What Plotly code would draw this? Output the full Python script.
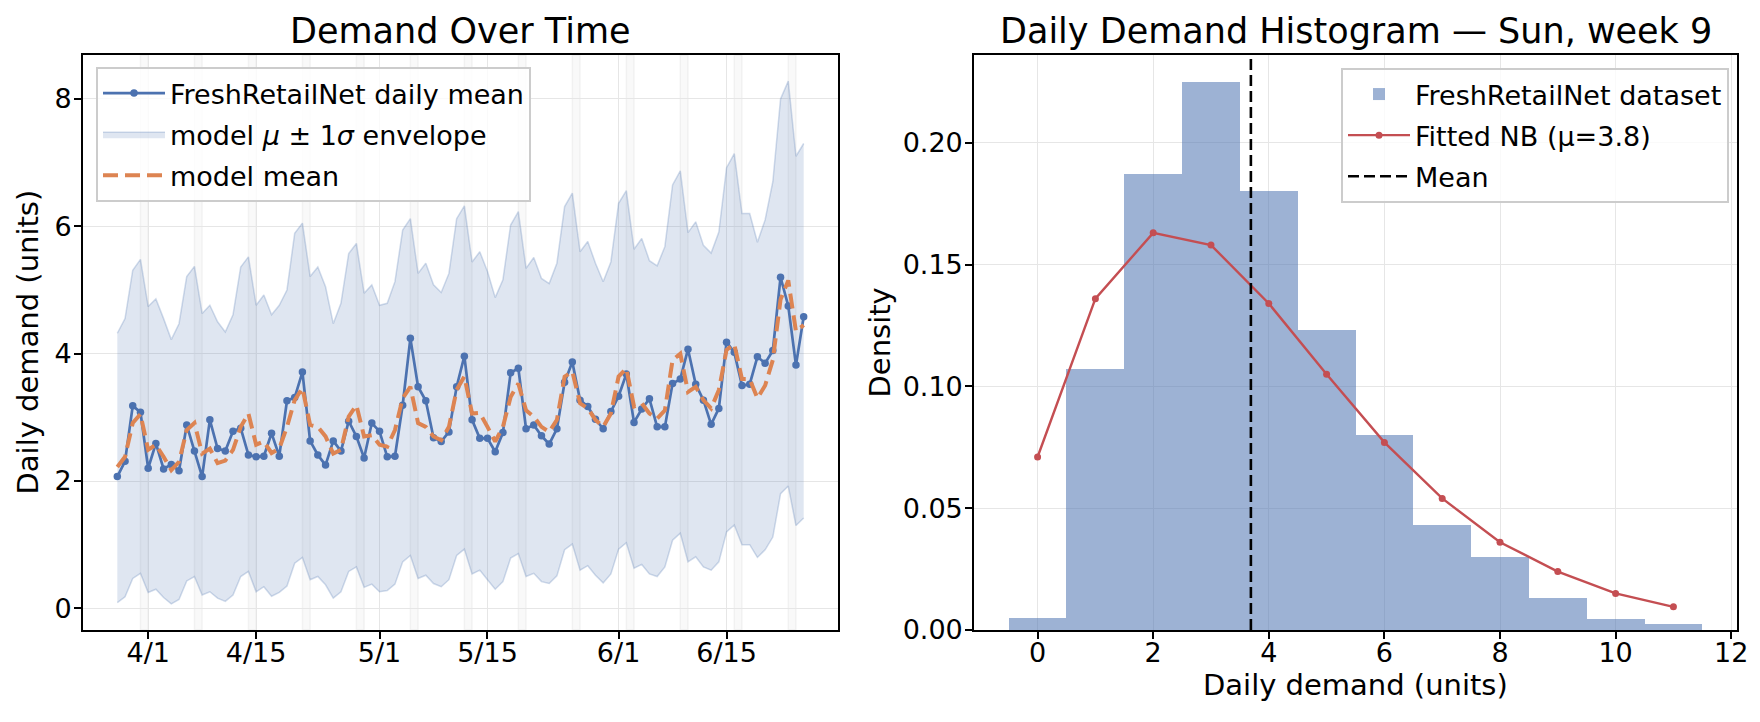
import pandas as pd
import plotly.graph_objects as go

W, H = 1760, 722
OFF = 8  # page body margin the figure sits inside
BLUE = '#4C72B0'
ORANGE = '#DD8452'
RED = '#C44E52'
FONT = 'DejaVu Sans'

# ---- left panel data (daily, 90 days) ----
start_date = '2024-03-28'
daily_mean = [
    2.07, 2.31, 3.18, 3.08, 2.20, 2.59, 2.19, 2.26, 2.16, 2.88,
    2.47, 2.07, 2.96, 2.51, 2.47, 2.78, 2.83, 2.41, 2.38, 2.39,
    2.75, 2.39, 3.26, 3.31, 3.71, 2.63, 2.41, 2.25, 2.63, 2.47,
    2.94, 2.70, 2.36, 2.91, 2.78, 2.38, 2.39, 3.19, 4.24, 3.48,
    3.26, 2.68, 2.62, 2.77, 3.48, 3.96, 2.96, 2.67, 2.67, 2.46,
    2.76, 3.70, 3.77, 2.82, 2.88, 2.71, 2.58, 2.82, 3.55, 3.87,
    3.27, 3.17, 2.97, 2.82, 3.09, 3.33, 3.68, 2.92, 3.13, 3.29,
    2.85, 2.85, 3.53, 3.60, 4.07, 3.52, 3.27, 2.89, 3.14, 4.18,
    4.02, 3.50, 3.52, 3.95, 3.85, 4.05, 5.20, 4.75, 3.82, 4.58,
]
model_mean = [
    2.22, 2.38, 2.91, 3.05, 2.49, 2.57, 2.38, 2.17, 2.30, 2.80,
    2.91, 2.43, 2.51, 2.28, 2.32, 2.49, 2.85, 3.06, 2.57, 2.62,
    2.44, 2.51, 2.85, 3.27, 3.46, 2.88, 2.85, 2.70, 2.43, 2.49,
    3.01, 3.19, 2.70, 2.72, 2.57, 2.54, 2.80, 3.30, 3.48, 2.91,
    2.85, 2.70, 2.64, 2.85, 3.43, 3.64, 3.06, 3.07, 2.85, 2.62,
    2.85, 3.32, 3.53, 3.11, 3.01, 2.85, 2.77, 2.96, 3.64, 3.72,
    3.22, 3.14, 2.96, 2.85, 3.06, 3.64, 3.77, 3.17, 3.22, 3.06,
    2.98, 3.11, 3.90, 4.00, 3.40, 3.48, 3.27, 3.14, 3.43, 4.06,
    4.15, 3.60, 3.60, 3.30, 3.50, 3.90, 4.85, 5.15, 4.35, 4.45,
]
env_upper = [
    4.32, 4.55, 5.31, 5.48, 4.74, 4.86, 4.55, 4.22, 4.47, 5.21,
    5.37, 4.63, 4.76, 4.50, 4.34, 4.61, 5.36, 5.52, 4.76, 4.92,
    4.61, 4.76, 5.00, 5.89, 6.05, 5.21, 5.36, 5.05, 4.47, 4.79,
    5.57, 5.73, 4.95, 5.08, 4.76, 4.79, 5.13, 5.94, 6.12, 5.26,
    5.42, 5.08, 4.96, 5.26, 6.12, 6.32, 5.44, 5.60, 5.29, 4.88,
    5.16, 6.02, 6.23, 5.34, 5.51, 5.18, 5.10, 5.42, 6.31, 6.52,
    5.60, 5.76, 5.42, 5.13, 5.44, 6.36, 6.56, 5.64, 5.81, 5.46,
    5.38, 5.68, 6.65, 6.87, 5.90, 6.07, 5.70, 5.58, 5.91, 6.92,
    7.14, 6.20, 6.20, 5.75, 6.10, 6.70, 8.00, 8.28, 7.10, 7.30,
]
env_lower = [
    0.09, 0.18, 0.47, 0.55, 0.25, 0.30, 0.17, 0.07, 0.14, 0.43,
    0.50, 0.21, 0.26, 0.16, 0.11, 0.21, 0.50, 0.58, 0.26, 0.34,
    0.19, 0.25, 0.35, 0.71, 0.80, 0.45, 0.50, 0.37, 0.16, 0.26,
    0.58, 0.65, 0.33, 0.38, 0.26, 0.28, 0.38, 0.73, 0.83, 0.47,
    0.52, 0.39, 0.34, 0.45, 0.83, 0.93, 0.54, 0.60, 0.45, 0.30,
    0.42, 0.79, 0.86, 0.50, 0.55, 0.42, 0.39, 0.51, 0.92, 1.01,
    0.60, 0.67, 0.52, 0.40, 0.54, 0.93, 1.03, 0.63, 0.69, 0.54,
    0.50, 0.65, 1.07, 1.18, 0.73, 0.81, 0.65, 0.60, 0.73, 1.20,
    1.31, 1.00, 1.00, 0.80, 0.92, 1.12, 1.80, 1.92, 1.30, 1.42,
]
tick_dates = ['2024-04-01', '2024-04-15', '2024-05-01', '2024-05-15', '2024-06-01', '2024-06-15']
tick_text = ['4/1', '4/15', '5/1', '5/15', '6/1', '6/15']

# ---- right panel data ----
hist_bins = list(range(12))
hist_density = [0.005, 0.107, 0.187, 0.225, 0.180, 0.123, 0.080, 0.043, 0.030, 0.013, 0.0045, 0.0025]
nb_x = list(range(12))
nb_pmf = [0.071, 0.136, 0.163, 0.158, 0.134, 0.105, 0.077, 0.054, 0.036, 0.024, 0.015, 0.0095]
mean_demand = 3.69
nb_mu = 3.8

dates = pd.date_range(start_date, periods=len(daily_mean), freq='D')


def px_x(p):
    return (p - OFF) / W


def px_y(p):
    return 1 - (p - OFF) / H


fig = go.Figure()

# envelope
fig.add_trace(go.Scatter(
    x=dates, y=env_lower, mode='lines',
    line=dict(color='rgba(76,114,176,0.25)', width=1.5),
    showlegend=False, hoverinfo='skip',
))
fig.add_trace(go.Scatter(
    x=dates, y=env_upper, mode='lines', fill='tonexty',
    fillcolor='rgba(76,114,176,0.18)',
    line=dict(color='rgba(76,114,176,0.25)', width=1.5),
    name='model <i>μ</i> ± 1<i>σ</i> envelope', legendrank=2, legendgroup='env',
))
fig.add_trace(go.Scatter(
    x=dates, y=daily_mean, mode='lines+markers',
    line=dict(color=BLUE, width=2.7), marker=dict(color=BLUE, size=7.5),
    name='FreshRetailNet daily mean', legendrank=1, legendgroup='obs',
))
fig.add_trace(go.Scatter(
    x=dates, y=model_mean, mode='lines',
    line=dict(color=ORANGE, width=4, dash='15px,7px'),
    name='model mean', legendrank=3, legendgroup='mod',
))

# right panel
fig.add_trace(go.Bar(
    x=hist_bins, y=hist_density, width=1,
    marker=dict(color='rgba(76,114,176,0.55)', line=dict(width=0)),
    name='FreshRetailNet dataset', xaxis='x2', yaxis='y2',
    legend='legend2', legendgroup='hist',
))
fig.add_trace(go.Scatter(
    x=nb_x, y=nb_pmf, mode='lines+markers',
    line=dict(color=RED, width=2.4), marker=dict(color=RED, size=7),
    name=f'Fitted NB (μ={nb_mu})', xaxis='x2', yaxis='y2',
    legend='legend2', legendgroup='nb',
))
fig.add_trace(go.Scatter(
    x=[mean_demand, mean_demand], y=[0, 0.236], mode='lines',
    line=dict(color='black', width=2.6, dash='11px,5px'),
    name='Mean', xaxis='x2', yaxis='y2',
    legend='legend2', legendgroup='mean',
))

# Sunday shading
shapes = []
for d in dates:
    if d.dayofweek == 6:
        shapes.append(dict(
            type='rect', xref='x', yref='y domain',
            x0=d, x1=d + pd.Timedelta(days=1), y0=0, y1=1,
            fillcolor='rgba(128,128,128,0.05)',
            line=dict(color='rgba(128,128,128,0.08)', width=1.5),
            layer='below',
        ))

pad = pd.Timedelta(days=4.45)
axis_common = dict(
    showline=True, mirror=True, linecolor='black', linewidth=1.6,
    ticks='outside', ticklen=7, tickwidth=1.6, tickcolor='black',
    showgrid=True, gridcolor='#e6e6e6', gridwidth=1.3,
    zeroline=False, automargin=False,
    tickfont=dict(size=27, color='black'),
)
x_common = dict(axis_common, ticklabelstandoff=-9)
y_common = dict(axis_common, ticklabelstandoff=-3)

y_bot, y_top = px_y(630), px_y(55)


def label(text, x, y, size, angle=0):
    return dict(text=text, x=x, y=y, xref='paper', yref='paper',
                xanchor='center', yanchor='middle', showarrow=False,
                textangle=angle, font=dict(size=size))


fig.update_layout(
    width=W, height=H,
    margin=dict(l=0, r=0, t=0, b=0),
    paper_bgcolor='white', plot_bgcolor='white',
    font=dict(family=FONT, size=27, color='black'),
    bargap=0,
    shapes=shapes,
    xaxis=dict(
        domain=[px_x(83), px_x(838)], anchor='y', type='date',
        range=[dates[0] - pad, dates[-1] + pad],
        tickvals=tick_dates, ticktext=tick_text, **x_common,
    ),
    yaxis=dict(
        domain=[y_bot, y_top], anchor='x',
        range=[-0.34, 8.69], tickvals=[0, 2, 4, 6, 8], **y_common,
    ),
    xaxis2=dict(
        domain=[px_x(974), px_x(1737)], anchor='y2',
        range=[-1.1, 12.1], tickvals=[0, 2, 4, 6, 8, 10, 12], **x_common,
    ),
    yaxis2=dict(
        domain=[y_bot, y_top], anchor='x2',
        range=[0, 0.236], tickvals=[0, 0.05, 0.10, 0.15, 0.20],
        tickformat='.2f', **y_common,
    ),
    legend=dict(
        x=px_x(96), y=px_y(67), xanchor='left', yanchor='top',
        bgcolor='rgba(255,255,255,0.8)', bordercolor='#cccccc', borderwidth=2,
        font=dict(size=27), tracegroupgap=3, itemwidth=62,
    ),
    legend2=dict(
        x=px_x(1729), y=px_y(68), xanchor='right', yanchor='top',
        bgcolor='rgba(255,255,255,0.8)', bordercolor='#cccccc', borderwidth=2,
        font=dict(size=27), tracegroupgap=3, itemwidth=62,
    ),
    annotations=[
        label('Demand Over Time', px_x((83 + 838) / 2), px_y(31), 35),
        label('Daily Demand Histogram — Sun, week 9', px_x((974 + 1737) / 2), px_y(31), 35),
        label('Daily demand (units)', px_x(27), (y_bot + y_top) / 2, 29, -90),
        label('Density', px_x(879), (y_bot + y_top) / 2, 29, -90),
        label('Daily demand (units)', px_x((974 + 1737) / 2), px_y(685), 29),
    ],
)

fig.write_html('out.html')
